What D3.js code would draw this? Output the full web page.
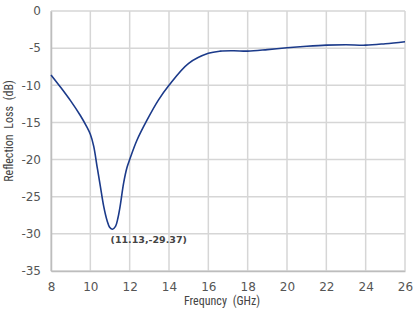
<!DOCTYPE html>
<html lang="en">
<head>
    <meta charset="UTF-8">
    <title>Reflection Loss</title>
    <script src="https://d3js.org/d3.v7.min.js"></script>
    <style>
        body {
            margin: 0;
            background-color: white;
        }
        .tick text {
            font-family: "DejaVu Sans", sans-serif;
        }
        .title {
            font-family: "Liberation Sans Narrow", "Roboto Condensed", sans-serif;
            font-size: 12px;
            fill: #444;
        }
    </style>
</head>
<body>
    <div id="chart"></div>
    <script>
        // Data
        const freq = [8, 8.5, 9, 9.5, 9.8, 10, 10.17, 10.34, 10.51, 10.68, 10.85, 10.98, 11.13, 11.28, 11.4, 11.52, 11.69, 11.86, 12, 12.37, 12.88, 13.46, 14, 15, 16, 16.6, 17.3, 18, 19, 20, 21, 22, 23, 24, 25, 26];
        const loss = [-8.6, -10.3, -12.1, -14.1, -15.5, -16.6, -18.2, -20.9, -23.6, -26.3, -28.2, -29.1, -29.37, -29.0, -27.9, -26.2, -23.2, -21.1, -20, -17.4, -14.7, -12, -10, -7.05, -5.7, -5.4, -5.35, -5.4, -5.2, -4.95, -4.75, -4.6, -4.55, -4.6, -4.4, -4.13];
        const xTicks = [8, 10, 12, 14, 16, 18, 20, 22, 24, 26];
        const yTicks = [0, -5, -10, -15, -20, -25, -30, -35];
        const minPoint = {f: 11.13, v: -29.37};

        const W = 414, H = 310;
        const margin = {top: 11, right: 9, bottom: 39, left: 51};
        const width = W - margin.left - margin.right,
              height = H - margin.top - margin.bottom;

        const svg = d3.select("#chart")
          .append("svg")
            .attr("width", W)
            .attr("height", H)
          .append("g")
            .attr("transform", `translate(${margin.left},${margin.top})`);

        const x = d3.scaleLinear().domain([8, 26]).range([0, width]);
        const y = d3.scaleLinear().domain([-35, 0]).range([height, 0]);

        // grid
        svg.append("g")
            .selectAll("line")
            .data(xTicks)
            .join("line")
            .attr("x1", d => x(d)).attr("x2", d => x(d))
            .attr("y1", 0).attr("y2", height)
            .attr("stroke", "#d6d6d6")
            .attr("stroke-width", 1.5);

        svg.append("g")
            .selectAll("line")
            .data(yTicks)
            .join("line")
            .attr("x1", 0).attr("x2", width)
            .attr("y1", d => y(d)).attr("y2", d => y(d))
            .attr("stroke", "#d6d6d6")
            .attr("stroke-width", 1.5);

        // axes
        const xAxis = svg.append("g")
            .attr("transform", `translate(0,${height})`)
            .call(d3.axisBottom(x).tickValues(xTicks).tickSize(0).tickPadding(11).tickFormat(d3.format("d")));
        const yAxis = svg.append("g")
            .call(d3.axisLeft(y).tickValues(yTicks).tickSize(0).tickPadding(10).tickFormat(d => d === 0 ? "0" : d3.format("d")(d).replace("−", "-")));

        [xAxis, yAxis].forEach(a => {
            a.select(".domain").attr("stroke", "#bdbdbd").attr("stroke-width", 1.5);
            a.selectAll("text").attr("fill", "#555").style("font-size", "12px");
        });

        // curve
        const line = d3.line()
            .x((d, i) => x(freq[i]))
            .y(d => y(d))
            .curve(d3.curveCatmullRom.alpha(0.5));

        svg.append("path")
            .datum(loss)
            .attr("fill", "none")
            .attr("stroke", "#1b3a8a")
            .attr("stroke-width", 1.6)
            .attr("d", line);

        // annotation
        svg.append("text")
            .attr("x", x(minPoint.f) - 2)
            .attr("y", y(minPoint.v) + 14)
            .attr("font-family", "DejaVu Sans, sans-serif")
            .attr("font-size", "9.5px")
            .attr("font-weight", "bold")
            .attr("fill", "#444")
            .text(`(${minPoint.f},${minPoint.v})`);

        // axis titles
        svg.append("text")
            .attr("class", "title")
            .attr("x", width / 2 - 6)
            .attr("y", height + 34)
            .attr("text-anchor", "middle")
            .style("word-spacing", "3px")
            .text("Frequncy (GHz)");

        svg.append("text")
            .attr("class", "title")
            .attr("transform", "rotate(-90)")
            .attr("x", -(131 - margin.top))
            .attr("y", -38)
            .attr("text-anchor", "middle")
            .style("word-spacing", "3px")
            .text("Reflection Loss (dB)");
    </script>
</body>
</html>
